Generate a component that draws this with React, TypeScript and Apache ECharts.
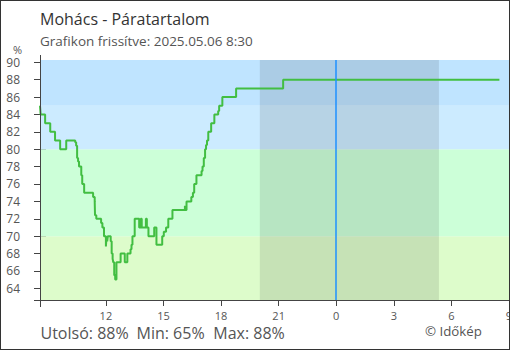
import React, { useEffect, useRef } from "react";
import * as echarts from "echarts";

const FONT = "Open Sans";

const TIMES = [
  "2025-05-05 08:34", "2025-05-05 08:36", "2025-05-05 08:50", "2025-05-05 09:06", "2025-05-05 09:21",
  "2025-05-05 09:37", "2025-05-05 09:56", "2025-05-05 10:24", "2025-05-05 10:27", "2025-05-05 10:30",
  "2025-05-05 10:33", "2025-05-05 10:36", "2025-05-05 10:43", "2025-05-05 10:46", "2025-05-05 10:52",
  "2025-05-05 11:20", "2025-05-05 11:25", "2025-05-05 11:26", "2025-05-05 11:30", "2025-05-05 11:45",
  "2025-05-05 11:49", "2025-05-05 11:54", "2025-05-05 12:00", "2025-05-05 12:02", "2025-05-05 12:04",
  "2025-05-05 12:06", "2025-05-05 12:15", "2025-05-05 12:18", "2025-05-05 12:21", "2025-05-05 12:23",
  "2025-05-05 12:26", "2025-05-05 12:29", "2025-05-05 12:33", "2025-05-05 12:46", "2025-05-05 12:59",
  "2025-05-05 13:07", "2025-05-05 13:17", "2025-05-05 13:20", "2025-05-05 13:23", "2025-05-05 13:30",
  "2025-05-05 13:44", "2025-05-05 13:49", "2025-05-05 13:52", "2025-05-05 14:05", "2025-05-05 14:08",
  "2025-05-05 14:13", "2025-05-05 14:31", "2025-05-05 14:38", "2025-05-05 14:56", "2025-05-05 15:01",
  "2025-05-05 15:08", "2025-05-05 15:15", "2025-05-05 15:28", "2025-05-05 16:07", "2025-05-05 16:09",
  "2025-05-05 16:12", "2025-05-05 16:27", "2025-05-05 16:32", "2025-05-05 16:36", "2025-05-05 16:43",
  "2025-05-05 16:59", "2025-05-05 17:02", "2025-05-05 17:06", "2025-05-05 17:10", "2025-05-05 17:13",
  "2025-05-05 17:16", "2025-05-05 17:20", "2025-05-05 17:29", "2025-05-05 17:39", "2025-05-05 17:51",
  "2025-05-05 17:54", "2025-05-05 18:04", "2025-05-05 18:47", "2025-05-05 21:14", "2025-05-06 08:30",
];

const HUMIDITY = [
  85, 84, 83, 82, 81,
  80, 81, 80.8, 80.4, 79,
  78.6, 78, 77, 76, 75,
  74.5, 74, 72.4, 72, 71.5,
  71, 70, 68.8, 70, 69.4,
  70, 69.4, 68, 67.4, 67,
  65.5, 65, 67, 68, 67,
  68, 68.5, 69, 70, 72,
  71, 72, 71, 72, 71,
  70, 71, 69, 70, 70.5,
  71, 72, 73, 73.5, 73,
  74, 74.5, 75, 76, 77,
  77.5, 78, 79, 80, 80.5,
  81, 82, 83, 84, 84.4,
  85, 86, 87, 88, 88,
];

const X_TICKS = [
  "2025-05-05 12:00", "2025-05-05 15:00", "2025-05-05 18:00", "2025-05-05 21:00",
  "2025-05-06 00:00", "2025-05-06 03:00", "2025-05-06 06:00", "2025-05-06 09:00",
];
const Y_TICKS = [64, 66, 68, 70, 72, 74, 76, 78, 80, 82, 84, 86, 88, 90];

const X_MIN = "2025-05-05 08:34";
const X_MAX = "2025-05-06 09:00";
const Y_MIN = 62.65;
const Y_MAX = 90.27;

const NIGHT_START = "2025-05-05 20:01";
const NIGHT_END = "2025-05-06 05:21";
const MIDNIGHT = "2025-05-06 00:00";

const BANDS = [
  { from: Y_MIN, to: 70, color: "#ddfccb" },
  { from: 70, to: 80, color: "#ccffd8" },
  { from: 80, to: 85, color: "#ccebff" },
  { from: 85, to: Y_MAX, color: "#bfe4ff" },
];

const TITLE = "Mohács - Páratartalom";
const SUBTITLE = "Grafikon frissítve: 2025.05.06 8:30";
const STATS = ["Utolsó: 88%", "Min: 65%", "Max: 88%"];
const COPYRIGHT = "© Időkép";

function ts(s: string): number {
  const [d, t] = s.split(" ");
  const [y, m, day] = d.split("-").map(Number);
  const [h, mi] = t.split(":").map(Number);
  return new Date(y, m - 1, day, h, mi).getTime();
}

export default function App() {
  const ref = useRef<HTMLDivElement>(null);

  useEffect(() => {
    document.body.style.margin = "0";
    if (!ref.current) return;
    const chart = echarts.init(ref.current, null, { renderer: "svg" });
    const xTicks = X_TICKS.map(ts);
    const axisColor = "#444";
    const labelColor = "#555";

    const baseX = {
      type: "value",
      min: ts(X_MIN),
      max: ts(X_MAX),
      axisLine: { show: false },
      splitLine: { show: false },
    };
    const baseY = {
      type: "value",
      min: Y_MIN,
      max: Y_MAX,
      axisLine: { show: false },
      splitLine: { show: false },
    };

    const option: any = {
      animation: false,
      grid: { left: 40, right: 1, top: 60, bottom: 50, outerBoundsMode: "none", containLabel: false },
      xAxis: [
        {
          ...baseX,
          axisTick: { show: true, length: 6, inside: false, customValues: xTicks, lineStyle: { color: axisColor } },
          axisLabel: {
            customValues: xTicks,
            formatter: (v: number) => String(new Date(v).getHours()),
            fontSize: 11,
            color: labelColor,
            margin: 10,
            fontFamily: FONT,
            hideOverlap: false,
          },
        },
        {
          ...baseX,
          position: "bottom",
          axisTick: { show: true, length: 6, inside: true, customValues: xTicks, lineStyle: { color: axisColor } },
          axisLabel: { show: false },
        },
      ],
      yAxis: [
        {
          ...baseY,
          axisTick: { show: true, length: 6, inside: false, customValues: Y_TICKS, lineStyle: { color: axisColor } },
          axisLabel: {
            customValues: Y_TICKS,
            fontSize: 12,
            color: labelColor,
            margin: 20,
            fontFamily: FONT,
          },
        },
        {
          ...baseY,
          position: "left",
          axisTick: { show: true, length: 6, inside: true, customValues: Y_TICKS, lineStyle: { color: axisColor } },
          axisLabel: { show: false },
        },
      ],
      graphic: [
        { type: "line", shape: { x1: 40.5, y1: 55, x2: 40.5, y2: 307 }, style: { stroke: axisColor, lineWidth: 1 }, z: 100 },
        { type: "line", shape: { x1: 34, y1: 300.5, x2: 510, y2: 300.5 }, style: { stroke: axisColor, lineWidth: 1 }, z: 100 },
        { type: "text", x: 40, y: 19, style: { text: TITLE, fontSize: 16, fontFamily: FONT, fill: "#333", verticalAlign: "middle" } },
        { type: "text", x: 40, y: 40.5, style: { text: SUBTITLE, fontSize: 13.5, fontFamily: FONT, fill: "#555", verticalAlign: "middle" } },
        { type: "text", x: 17.5, y: 49.5, style: { text: "%", fontSize: 11, fontFamily: FONT, fill: labelColor, align: "center", verticalAlign: "middle" } },
        { type: "text", x: 40.5, y: 333, style: { text: STATS[0], fontSize: 16, fontFamily: FONT, fill: "#555", verticalAlign: "middle" } },
        { type: "text", x: 136.5, y: 333, style: { text: STATS[1], fontSize: 16, fontFamily: FONT, fill: "#555", verticalAlign: "middle" } },
        { type: "text", x: 213.3, y: 333, style: { text: STATS[2], fontSize: 16, fontFamily: FONT, fill: "#555", verticalAlign: "middle" } },
        { type: "text", x: 425, y: 330.5, style: { text: COPYRIGHT, fontSize: 13.3, fontFamily: FONT, fill: "#555", verticalAlign: "middle" } },
      ],
      series: [
        {
          type: "line",
          z: 1,
          xAxisIndex: 0,
          yAxisIndex: 0,
          data: [],
          markArea: {
            silent: true,
            data: [
              ...BANDS.map((b) => [
                { yAxis: b.from, itemStyle: { color: b.color } },
                { yAxis: b.to },
              ]),
              [
                { xAxis: ts(NIGHT_START), itemStyle: { color: "rgba(0,0,0,0.1)" } },
                { xAxis: ts(NIGHT_END) },
              ],
            ],
          },
        },
        {
          type: "line",
          z: 2,
          xAxisIndex: 0,
          yAxisIndex: 0,
          data: [],
          markLine: {
            silent: true,
            symbol: ["none", "none"],
            label: { show: false },
            lineStyle: { color: "#1e90ff", width: 1.5, type: "solid", opacity: 1 },
            emphasis: { disabled: true },
            data: [{ xAxis: ts(MIDNIGHT) }],
          },
        },
        {
          type: "line",
          z: 3,
          xAxisIndex: 0,
          yAxisIndex: 0,
          step: "end",
          showSymbol: false,
          symbol: "none",
          data: TIMES.map((t, i) => [ts(t), HUMIDITY[i]]),
          lineStyle: { color: "#42be42", width: 2 },
        },
      ],
    };
    chart.setOption(option);
    return () => chart.dispose();
  }, []);

  return (
    <div style={{ position: "relative", width: 510, height: 350 }}>
      <div ref={ref} style={{ width: 510, height: 350 }} />
      <div
        style={{
          position: "absolute",
          left: 0,
          top: 0,
          width: 510,
          height: 350,
          boxSizing: "border-box",
          border: "1px solid #333",
          pointerEvents: "none",
        }}
      />
    </div>
  );
}
